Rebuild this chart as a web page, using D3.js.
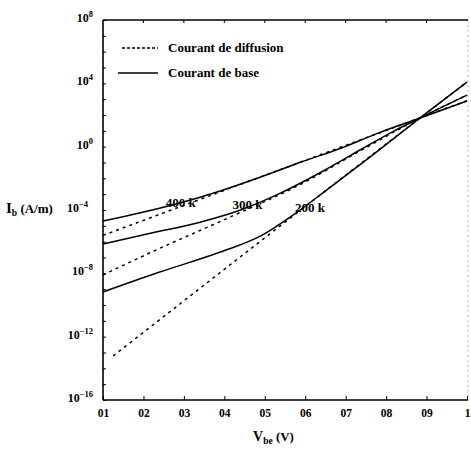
<!DOCTYPE html>
<html>
<head>
<meta charset="utf-8">
<script src="https://cdn.jsdelivr.net/npm/d3@7"></script>
<style>
  html, body { margin: 0; padding: 0; background: #fff; }
  svg { display: block; }
  svg text { font-family: "Times New Roman", "Liberation Serif", "DejaVu Serif", serif !important; font-weight: bold; fill: #000; }
</style>
</head>
<body>
<svg id="chart" width="471" height="450"></svg>
<script>
// Base-emitter voltage (V) tick values and their printed labels
const xTicks = [0.1, 0.2, 0.3, 0.4, 0.5, 0.6, 0.7, 0.8, 0.9, 1.0];
const xTickLabels = ["01", "02", "03", "04", "05", "06", "07", "08", "09", "1"];
// Current decades (A/m) carrying a label
const yLabelExps = [8, 4, 0, -4, -8, -12, -16];

// Base current (solid) for each temperature
const vBase400 = [0.10, 0.19, 0.29, 0.39, 0.49, 0.59, 0.69, 0.78, 0.884, 1.0];
const iBase400 = [2.0e-5, 6.5e-5, 2.8e-4, 1.6e-3, 1.2e-2, 0.107, 0.83, 7.2, 65, 760];
const vBase300 = [0.10, 0.22, 0.34, 0.44, 0.54, 0.64, 0.74, 0.81, 0.884, 1.0];
const iBase300 = [7.1e-7, 3.5e-6, 1.7e-5, 1.0e-4, 1.2e-3, 2.5e-2, 0.71, 7.2, 65, 1800];
const vBase200 = [0.10, 0.24, 0.39, 0.49, 0.56, 0.66, 0.76, 0.884, 1.0];
const iBase200 = [6.6e-10, 1.2e-8, 2.2e-7, 2.3e-6, 3.2e-5, 2.5e-3, 0.22, 65, 1.2e4];

// Diffusion current (dashed) for each temperature
const vDiff400 = [0.10, 0.884, 1.0];
const iDiff400 = [2.5e-6, 65, 800];
const vDiff300 = [0.10, 0.22, 0.41, 0.59, 0.74, 0.884, 1.0];
const iDiff300 = [7.9e-9, 2.2e-7, 3.2e-5, 4.4e-3, 0.62, 65, 1800];
const vDiff200 = [0.125, 0.884, 1.0];
const iDiff200 = [6.0e-14, 65, 1.2e4];

const tempLabels = ["400 k", "300 k", "200 k"];
const legendLabels = ["Courant de diffusion", "Courant de base"];

const svg = d3.select("#chart");
const mLeft = 103, mRight = 467, mTop = 20, mBottom = 400;

const x = d3.scaleLinear().domain([0.1, 1.0]).range([mLeft, mRight]);
const y = d3.scaleLog().domain([1e-16, 1e8]).range([mBottom, mTop]);

const zip = (vs, is) => vs.map((v, k) => ({ v, i: is[k] }));
const line = d3.line().x(d => x(d.v)).y(d => y(d.i)).curve(d3.curveMonotoneX);

// Frame: faint right edge, solid top edge
svg.append("line")
  .attr("x1", mRight + 1).attr("x2", mRight + 1).attr("y1", mTop).attr("y2", mBottom)
  .attr("stroke", "#bbb").attr("stroke-width", 1).attr("stroke-dasharray", "2,3");
svg.append("line")
  .attr("x1", mLeft).attr("x2", mRight + 1).attr("y1", mTop).attr("y2", mTop)
  .attr("stroke", "#000").attr("stroke-width", 1.6);

// Bottom axis with inward ticks
const xAxis = d3.axisBottom(x).tickValues(xTicks)
  .tickSize(-4).tickPadding(9)
  .tickFormat((d, k) => xTickLabels[k]);
const gx = svg.append("g").attr("transform", `translate(0,${mBottom})`).call(xAxis);
gx.attr("font-family", null);
gx.select(".domain").attr("stroke-width", 1.6).attr("d", `M${mLeft},0H${mRight + 1}`);
gx.selectAll("text").attr("font-size", 11.5);

// Top edge ticks
svg.append("g").selectAll("line").data(xTicks.slice(1, -1)).join("line")
  .attr("x1", d => x(d)).attr("x2", d => x(d)).attr("y1", mTop).attr("y2", mTop + 3)
  .attr("stroke", "#000");

// Left axis: inward ticks on every decade, labels every four decades
const decades = d3.range(-16, 9).map(e => Math.pow(10, e));
const yAxis = d3.axisLeft(y).tickValues(decades).tickSize(-3).tickFormat("");
const gy = svg.append("g").attr("transform", `translate(${mLeft},0)`).call(yAxis);
gy.select(".domain").attr("stroke-width", 1.6).attr("d", `M0,${mTop}V${mBottom}`);

const yl = svg.append("g");
yLabelExps.forEach(e => {
  const t = yl.append("text")
    .attr("x", e === -4 ? 88 : 93)
    .attr("y", y(Math.pow(10, e)) + 2)
    .attr("text-anchor", "end")
    .attr("font-size", 12);
  t.append("tspan").text("10");
  t.append("tspan").attr("dy", -5).attr("font-size", 8.5).text(String(e).replace("-", "\u2212"));
});

// Axis titles
const yt = svg.append("text").attr("x", 6).attr("y", y(1e-4) + 3).attr("font-size", 13);
yt.append("tspan").attr("font-size", 15).text("I");
yt.append("tspan").attr("dy", 3).attr("font-size", 9.5).text("b");
yt.append("tspan").attr("dy", -3).text(" (A/m)");

const xt = svg.append("text").attr("x", 253).attr("y", 441).attr("font-size", 13);
xt.append("tspan").attr("font-size", 14).text("V");
xt.append("tspan").attr("dy", 3).attr("font-size", 9.5).text("be");
xt.append("tspan").attr("dy", -3).text(" (V)");

// Curves
const curves = [
  { d: zip(vDiff400, iDiff400), dash: "3,4" },
  { d: zip(vDiff300, iDiff300), dash: "3,4" },
  { d: zip(vDiff200, iDiff200), dash: "3,4" },
  { d: zip(vBase400, iBase400), dash: null },
  { d: zip(vBase300, iBase300), dash: null },
  { d: zip(vBase200, iBase200), dash: null }
];
const plot = svg.append("g");
plot.selectAll("path").data(curves).join("path")
  .attr("d", c => line(c.d))
  .attr("fill", "none")
  .attr("stroke", "#000")
  .attr("stroke-width", 1.5)
  .attr("stroke-dasharray", c => c.dash);

// Temperature labels placed on their base-current curves
const tempV = [0.255, 0.42, 0.575];
const tempY = [207, 209, 212];
plot.selectAll("text.temp").data(tempLabels).join("text")
  .attr("class", "temp")
  .attr("x", (d, k) => x(tempV[k]))
  .attr("y", (d, k) => tempY[k])
  .attr("font-size", 13)
  .text(d => d);

// Legend
const lg = svg.append("g");
lg.append("line").attr("x1", 122).attr("x2", 158).attr("y1", 48).attr("y2", 48)
  .attr("stroke", "#000").attr("stroke-width", 1.5).attr("stroke-dasharray", "3,2");
lg.append("line").attr("x1", 118).attr("x2", 158).attr("y1", 73).attr("y2", 73)
  .attr("stroke", "#000").attr("stroke-width", 1.3);
lg.append("text").attr("x", 168).attr("y", 52).attr("font-size", 13).text(legendLabels[0]);
lg.append("text").attr("x", 168).attr("y", 77).attr("font-size", 13).text(legendLabels[1]);
</script>
</body>
</html>
